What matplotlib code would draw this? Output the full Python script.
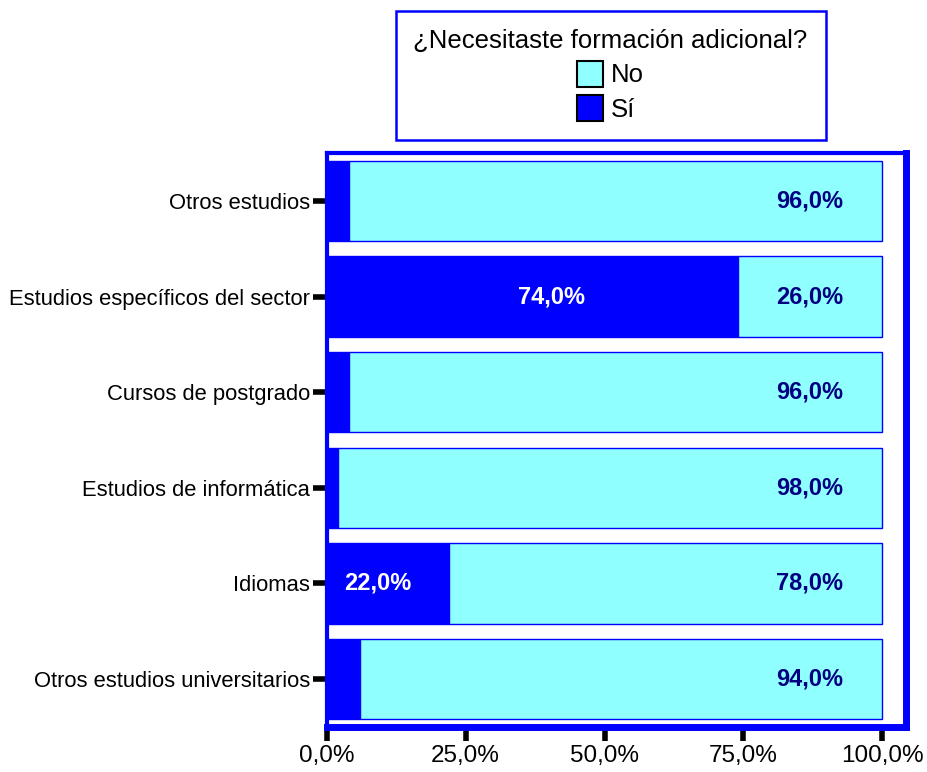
import numpy as np
import matplotlib.pyplot as plt
from matplotlib.patches import Patch

plt.rcParams['font.family'] = ['Liberation Sans', 'DejaVu Sans']

categorias = ['Otros estudios universitarios', 'Idiomas', 'Estudios de informática',
              'Cursos de postgrado', 'Estudios específicos del sector', 'Otros estudios']
si = [6.0, 22.0, 2.0, 4.0, 74.0, 4.0]
no = [94.0, 78.0, 98.0, 96.0, 26.0, 96.0]
ticks_x = [0, 25, 50, 75, 100]
ticks_lbl = ['0,0%', '25,0%', '50,0%', '75,0%', '100,0%']

c_si = '#0000ff'
c_no = '#8fffff'
azul = '#0000ff'

def pct(v):
    return ('%.1f' % v).replace('.', ',') + '%'

fig = plt.figure(figsize=(9.28, 7.72), dpi=100)
ax = fig.add_axes([0.352, 0.0583, 0.624, 0.7435])

y = np.arange(len(categorias))
ax.barh(y, si, height=0.84, color=c_si, edgecolor=azul, linewidth=1)
ax.barh(y, no, left=si, height=0.84, color=c_no, edgecolor=azul, linewidth=1)

for i in range(len(categorias)):
    ax.text(93.0, y[i], pct(no[i]), ha='right', va='center',
            fontsize=17, fontweight='bold', color='#000080')
    if si[i] >= 10:
        ax.text(si[i] * 0.6 - 4, y[i], pct(si[i]), ha='center', va='center',
                fontsize=17, fontweight='bold', color='white')

ax.set_xlim(0, 104.2)
ax.set_ylim(-0.5, 5.5)
ax.set_yticks(y)
ax.set_yticklabels(categorias, fontsize=15.8)
ax.set_xticks(ticks_x)
ax.set_xticklabels(ticks_lbl, fontsize=17.5)
ax.tick_params(axis='both', length=10, width=4, color='black', pad=2)
ax.tick_params(axis='x', pad=3)

for s in ax.spines.values():
    s.set_color(azul)
ax.spines['left'].set_linewidth(3)
ax.spines['top'].set_linewidth(3)
ax.spines['right'].set_linewidth(5)
ax.spines['bottom'].set_linewidth(5)

handles = [Patch(facecolor=c_no, edgecolor='black', linewidth=1.5),
           Patch(facecolor=c_si, edgecolor='black', linewidth=1.5)]
leg = fig.legend(handles, ['No', 'Sí'], title='¿Necesitaste formación adicional?',
                 loc='upper center', bbox_to_anchor=(0.658, 0.986), fontsize=18.5,
                 title_fontsize=18.5, fancybox=False, framealpha=1, edgecolor=azul,
                 handlelength=1.0, handleheight=1.2, handletextpad=0.3,
                 labelspacing=0.3, borderpad=0.7, borderaxespad=0)
leg.get_frame().set_linewidth(1.8)

fig.savefig('out.png', dpi=100)
